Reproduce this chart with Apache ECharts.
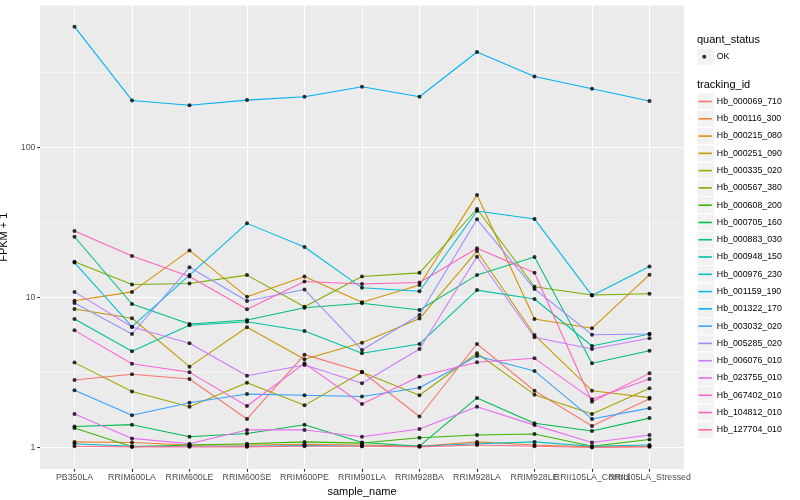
<!DOCTYPE html>
<html>
<head>
<meta charset="utf-8">
<script src="https://cdn.jsdelivr.net/npm/echarts@6/dist/echarts.min.js"></script>
<style>html,body{margin:0;padding:0;background:#fff}#c{width:800px;height:500px}</style>
</head>
<body>
<div id="c"></div>
<script>
// ---- data (values are FPKM + 1) ----
const categories = ["PB350LA","RRIM600LA","RRIM600LE","RRIM600SE","RRIM600PE","RRIM901LA","RRIM928BA","RRIM928LA","RRIM928LE","RRII105LA_Control","RRII105LA_Stressed"];
const trackingIds = ["Hb_000069_710","Hb_000116_300","Hb_000215_080","Hb_000251_090","Hb_000335_020","Hb_000567_380","Hb_000608_200","Hb_000705_160","Hb_000883_030","Hb_000948_150","Hb_000976_230","Hb_001159_190","Hb_001322_170","Hb_003032_020","Hb_005285_020","Hb_006076_010","Hb_023755_010","Hb_067402_010","Hb_104812_010","Hb_127704_010"];
const seriesColors = ["#F8766D","#EA8331","#D89000","#C09B00","#A3A500","#7CAE00","#39B600","#00BB4E","#00BF7D","#00C1A3","#00BFC4","#00BAE0","#00B0F6","#35A2FF","#9590FF","#C77CFF","#E76BF3","#FA62DB","#FF62BC","#FF6C91"];

const hb_000069_710 = [2.82, 3.08, 2.86, 1.55, 4.16, 3.20, 1.61, 4.90, 2.39, 1.39, 2.11];
const hb_000116_300 = [1.09, 1.08, 1.04, 1.04, 1.05, 1.04, 1.02, 1.09, 1.04, 1.01, 1.02];
const hb_000215_080 = [9.52, 10.9, 20.6, 10.1, 13.8, 9.29, 12.1, 48.3, 7.19, 6.23, 14.2];
const hb_000251_090 = [8.38, 7.27, 3.46, 6.33, 3.87, 5.00, 7.24, 20.4, 5.62, 2.39, 2.15];
const hb_000335_020 = [3.68, 2.36, 1.87, 2.70, 1.91, 3.17, 2.23, 4.25, 2.25, 1.67, 2.48];
const hb_000567_380 = [17.3, 12.2, 12.4, 14.1, 8.68, 13.8, 14.6, 38.9, 11.8, 10.4, 10.6];
const hb_000608_200 = [1.35, 1.01, 1.04, 1.06, 1.09, 1.07, 1.16, 1.21, 1.23, 1.02, 1.13];
const hb_000705_160 = [1.38, 1.42, 1.18, 1.24, 1.42, 1.08, 1.02, 2.14, 1.45, 1.29, 1.57];
const hb_000883_030 = [25.4, 9.05, 6.66, 7.08, 8.55, 9.15, 8.25, 14.1, 18.6, 3.64, 4.42];
const hb_000948_150 = [7.19, 4.38, 6.53, 6.90, 5.98, 4.25, 4.90, 11.2, 9.77, 4.75, 5.71];
const hb_000976_230 = [1.06, 1.02, 1.02, 1.02, 1.03, 1.02, 1.02, 1.06, 1.09, 1.02, 1.04];
const hb_001159_190 = [17.1, 6.39, 14.1, 31.2, 21.7, 11.6, 11.0, 37.7, 33.4, 10.3, 16.1];
const hb_001322_170 = [639, 206, 191, 207, 218, 254, 218, 433, 297, 246, 204];
const hb_003032_020 = [2.41, 1.64, 1.99, 2.27, 2.23, 2.19, 2.50, 4.07, 3.24, 1.55, 1.83];
const hb_005285_020 = [9.19, 5.71, 15.9, 9.48, 11.3, 4.47, 7.64, 33.2, 11.4, 5.65, 5.71];
const hb_006076_010 = [10.9, 6.36, 4.95, 3.01, 3.55, 2.68, 4.54, 18.7, 5.43, 4.54, 5.35];
const hb_023755_010 = [1.67, 1.15, 1.06, 1.31, 1.31, 1.18, 1.33, 1.87, 1.41, 1.08, 1.21];
const hb_067402_010 = [6.04, 3.62, 3.17, 1.89, 3.64, 1.95, 2.97, 3.70, 3.93, 2.10, 2.86];
const hb_104812_010 = [27.8, 18.9, 13.8, 8.35, 12.8, 12.3, 12.6, 21.3, 14.6, 2.02, 3.12];
const hb_127704_010 = [1.02, 1.01, 1.01, 1.01, 1.02, 1.02, 1.01, 1.04, 1.02, 1.00, 1.01];

const seriesValues = [hb_000069_710, hb_000116_300, hb_000215_080, hb_000251_090, hb_000335_020,
  hb_000567_380, hb_000608_200, hb_000705_160, hb_000883_030, hb_000948_150, hb_000976_230,
  hb_001159_190, hb_001322_170, hb_003032_020, hb_005285_020, hb_006076_010, hb_023755_010,
  hb_067402_010, hb_104812_010, hb_127704_010];

const yTicks = [1, 10, 100];
const yMinorBreaks = [3.1623, 31.623, 316.23];
const quantStatus = ["OK"];

// ---- layout / style ----
const FONT = 'Liberation Sans, Arial, Helvetica, sans-serif';
const yMin = 0.72, yMax = 884;
const xMin = -0.6, xMax = categories.length - 0.4;
const xIdx = categories.map((c, i) => i);
const xEven = xIdx.filter(i => i % 2 === 0);
const xOdd = xIdx.filter(i => i % 2 === 1);
const legendLeft = 697, keySize = 17.28;
const okCenter = 56.7, firstKeyCenter = 101.5;
const gridBox = { left: 40, right: 116, top: 5.52, bottom: 31.1 };
const GRID_COLOR = '#ffffff';

const lineSeries = trackingIds.map((id, i) => ({
  name: id,
  type: 'line',
  data: seriesValues[i].map((v, j) => [j, v]),
  showSymbol: false,
  symbol: 'none',
  lineStyle: { width: 1.07, color: seriesColors[i] },
  itemStyle: { color: seriesColors[i] },
  emphasis: { disabled: true },
  silent: true,
  z: 2
}));

const pointData = [];
seriesValues.forEach(arr => arr.forEach((v, j) => pointData.push([j, v])));

// horizontal panel grid lines (major at the tick values, minor half-way in log space)
const hGrid = yTicks.map(v => ({ v: v, w: 1.07 })).concat(yMinorBreaks.map(v => ({ v: v, w: 0.53 })));
const gridSeries = hGrid.map(h => ({
  type: 'line', data: [[xMin, h.v], [xMax, h.v]],
  symbol: 'none', showSymbol: false, silent: true, z: 1,
  lineStyle: { color: GRID_COLOR, width: h.w },
  emphasis: { disabled: true }
}));

const keyCenters = [okCenter].concat(trackingIds.map((_, i) => firstKeyCenter + i * keySize));

const labelStyle = { color: '#4D4D4D', fontSize: 8.8, fontFamily: FONT };

const option = {
  animation: false,
  backgroundColor: '#ffffff',
  textStyle: { fontFamily: FONT },
  title: [
    { text: 'quant_status', left: legendLeft, top: 34, padding: 0,
      textStyle: { fontSize: 11, fontWeight: 'normal', color: '#000', fontFamily: FONT } },
    { text: 'tracking_id', left: legendLeft, top: 79, padding: 0,
      textStyle: { fontSize: 11, fontWeight: 'normal', color: '#000', fontFamily: FONT } }
  ],
  graphic: keyCenters.map(cy => ({
    type: 'rect', z: 0,
    shape: { x: legendLeft, y: cy - keySize / 2, width: keySize, height: keySize },
    style: { fill: '#F2F2F2', stroke: '#ffffff', lineWidth: 1 }
  })),
  legend: [
    { data: quantStatus.map(n => ({ name: n, icon: 'circle' })),
      orient: 'vertical', left: 702.3, top: okCenter - 6, padding: 0,
      itemWidth: 4, itemHeight: 4, selectedMode: false,
      textStyle: { fontSize: 8.8, lineHeight: 12, color: '#000', fontFamily: FONT, padding: [0, 0, 0, 5.4] } },
    { data: trackingIds.map((n, i) => ({ name: n, icon: 'rect', itemStyle: { color: seriesColors[i] } })),
      orient: 'vertical', left: 698.5, top: firstKeyCenter - 6, padding: 0,
      itemWidth: 13.3, itemHeight: 1.6, itemGap: keySize - 12, selectedMode: false,
      textStyle: { fontSize: 8.8, lineHeight: 12, color: '#000', fontFamily: FONT } }
  ],
  grid: [
    Object.assign({ show: true, backgroundColor: '#EBEBEB', borderWidth: 0, containLabel: false, outerBoundsMode: 'none' }, gridBox),
    Object.assign({ show: false, containLabel: false, outerBoundsMode: 'none' }, gridBox)
  ],
  xAxis: [
    { gridIndex: 0, type: 'value', min: xMin, max: xMax,
      axisLine: { show: false, onZero: false },
      axisTick: { show: true, customValues: xIdx, length: 2.75, lineStyle: { color: '#333333', width: 1.07 } },
      axisLabel: Object.assign({ customValues: xEven, formatter: v => categories[Math.round(v)],
                   showMinLabel: true, showMaxLabel: true, hideOverlap: false, margin: 4 }, labelStyle),
      splitLine: { show: true, lineStyle: { color: '#ffffff', width: 1.07 } },
      name: 'sample_name', nameLocation: 'middle', nameGap: 13.5,
      nameTextStyle: { fontSize: 11, color: '#000', fontFamily: FONT } },
    { gridIndex: 1, type: 'value', min: xMin, max: xMax,
      axisLine: { show: false, onZero: false },
      axisTick: { show: true, customValues: xOdd, length: 2.75, lineStyle: { color: '#333333', width: 1.07 } },
      axisLabel: Object.assign({ customValues: xOdd, formatter: v => categories[Math.round(v)],
                   showMinLabel: true, showMaxLabel: true, hideOverlap: false, margin: 4 }, labelStyle),
      splitLine: { show: false } }
  ],
  yAxis: [
    { gridIndex: 0, type: 'log', logBase: 10, min: yMin, max: yMax,
      axisLine: { show: false, onZero: false },
      axisTick: { show: true, customValues: yTicks, length: 2.75, lineStyle: { color: '#333333', width: 1.07 } },
      axisLabel: Object.assign({ customValues: yTicks, formatter: v => String(v),
                   showMinLabel: true, showMaxLabel: true, margin: 4.5 }, labelStyle),
      splitLine: { show: false },
      name: 'FPKM + 1', nameLocation: 'middle', nameGap: 15, nameRotate: 90,
      nameTextStyle: { fontSize: 11, color: '#000', fontFamily: FONT } },
    { gridIndex: 1, type: 'log', logBase: 10, min: yMin, max: yMax, show: false,
      axisLine: { onZero: false } }
  ],
  series: gridSeries.concat(lineSeries).concat([{
    name: 'OK', type: 'scatter', data: pointData,
    symbol: 'circle', symbolSize: 4,
    itemStyle: { color: '#000000' },
    emphasis: { disabled: true }, silent: true, z: 3
  }])
};

const chart = echarts.init(document.getElementById('c'));
chart.setOption(option);
</script>
</body>
</html>
